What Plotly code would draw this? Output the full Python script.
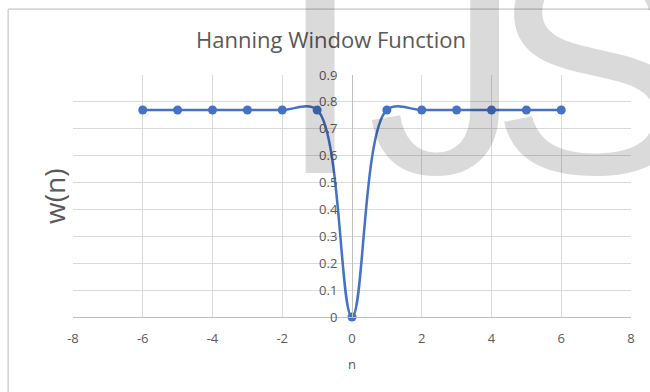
import plotly.graph_objects as go

# Window samples
n_values = [-6, -5, -4, -3, -2, -1, 0, 1, 2, 3, 4, 5, 6]
w_values = [0.77, 0.77, 0.77, 0.77, 0.77, 0.77, 0.0, 0.77, 0.77, 0.77, 0.77, 0.77, 0.77]

x_ticks = [-8, -6, -4, -2, 0, 2, 4, 6, 8]
x_tick_text = ["-8", "-6", "-4", "-2", "0", "2", "4", "6", "8"]
y_ticks = [0, 0.1, 0.2, 0.3, 0.4, 0.5, 0.6, 0.7, 0.8, 0.9]
y_tick_text = ["0", "0.1", "0.2", "0.3", "0.4", "0.5", "0.6", "0.7", "0.8", "0.9"]

W, H = 650, 392
# plot-area box in pixels (left, right, top, bottom)
PL, PR, PT, PB = 73, 631, 75, 317


def px_x(xp):
    return xp / W


def px_y(yp):
    return 1 - yp / H


BLUE = "#4472C4"
TXT = "#595959"
GRID = "#d9d9d9"
FONT = "'Open Sans', Lato, sans-serif"

fig = go.Figure()
fig.add_trace(go.Scatter(
    x=n_values, y=w_values,
    mode="lines+markers",
    line=dict(color=BLUE, width=2.5, shape="spline", smoothing=1.0),
    marker=dict(color=BLUE, size=9),
    cliponaxis=False,
    showlegend=False,
))

# chart-area border (left and top edges visible)
border = dict(color="#d6d6d6", width=1.7)
fig.add_shape(type="line", xref="paper", yref="paper",
              x0=px_x(8.2), y0=px_y(9.2), x1=1, y1=px_y(9.2), line=border, layer="above")
fig.add_shape(type="line", xref="paper", yref="paper",
              x0=px_x(8.2), y0=px_y(9.2), x1=px_x(8.2), y1=0, line=border, layer="above")

# watermark letters (baseline near y=177 px)
mark_font = dict(family="Liberation Sans, Arial, sans-serif", size=310, color="rgba(0,0,0,0.145)")
for letter, left_px in [("I", 275), ("J", 365), ("S", 488)]:
    fig.add_annotation(
        text=letter, xref="paper", yref="paper", x=px_x(left_px), y=px_y(178 + 63),
        xanchor="left", yanchor="bottom", showarrow=False, font=mark_font,
    )

fig.update_layout(
    width=W, height=H,
    margin=dict(l=0, r=0, t=0, b=0, autoexpand=False),
    paper_bgcolor="white", plot_bgcolor="white",
    font=dict(family=FONT, color=TXT, size=13),
    title=dict(text="Hanning Window Function", x=331 / W, xref="container", xanchor="center",
               y=1 - 40 / H, yref="container", yanchor="middle",
               font=dict(size=22, color=TXT, family=FONT)),
    xaxis=dict(domain=[px_x(PL), px_x(PR)], range=[-8, 8], tickvals=x_ticks, ticktext=x_tick_text,
               showgrid=True, gridcolor=GRID, gridwidth=1,
               zeroline=False, showline=True, linecolor="#bfbfbf", linewidth=1, mirror=False,
               ticks="", ticklabelstandoff=9, tickfont=dict(size=13, color=TXT),
               title=dict(text="n", font=dict(size=13, color=TXT), standoff=14)),
    yaxis=dict(domain=[px_y(PB), px_y(PT)], range=[0, 0.9], tickvals=y_ticks, ticktext=y_tick_text,
               showgrid=True, gridcolor=GRID, gridwidth=1,
               zeroline=False, showline=True, linecolor="#bfbfbf", linewidth=1,
               anchor="free", position=(px_x(PL) + px_x(PR)) / 2, ticks="", ticklabelstandoff=12,
               tickfont=dict(size=13, color=TXT)),
)

# y-axis title placed left of the plot area
fig.add_annotation(text="w(n)", xref="paper", yref="paper", x=px_x(54), y=px_y(197),
                   textangle=-90, showarrow=False, xanchor="center", yanchor="middle",
                   font=dict(size=28, color=TXT, family=FONT))

fig.write_html("out.html")
